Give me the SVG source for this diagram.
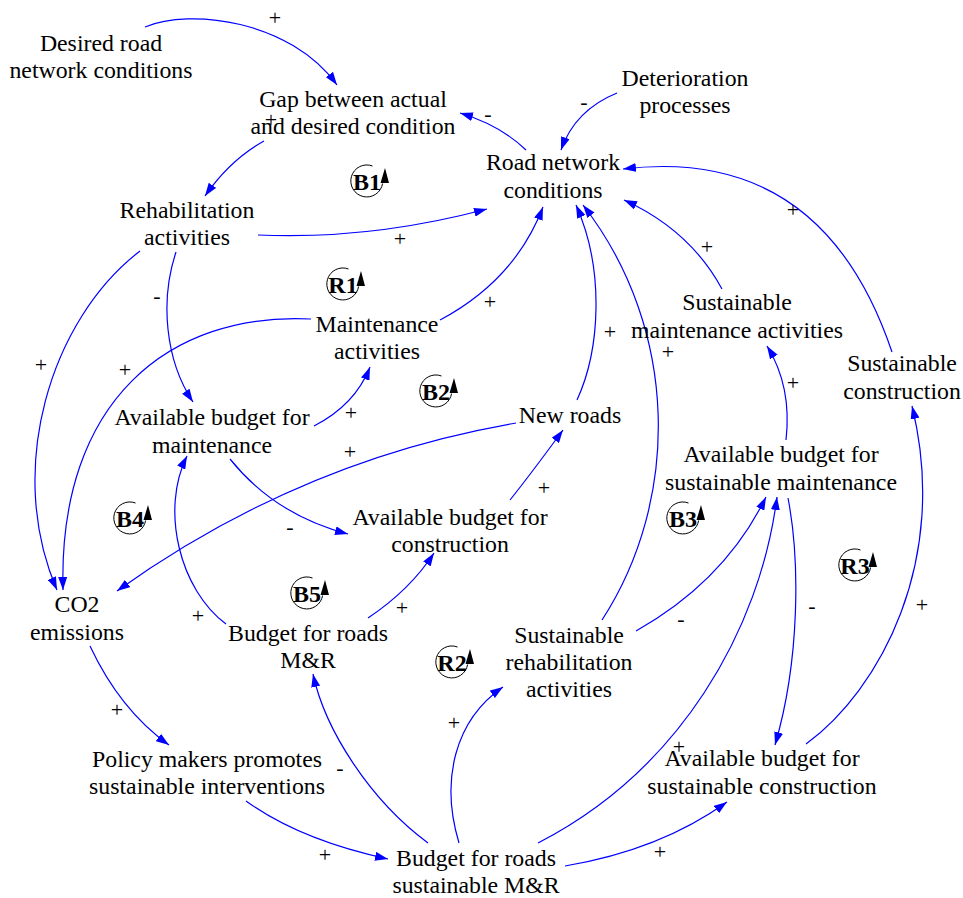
<svg xmlns="http://www.w3.org/2000/svg" width="963" height="898" viewBox="0 0 963 898" font-family="'Liberation Serif', 'DejaVu Serif', serif">
  <style>
    .node text { font-family: 'Liberation Serif', 'DejaVu Serif', serif; font-size: 23.8px; fill: #000; text-anchor: middle; }
    .link { fill: none; stroke: #0000ff; stroke-width: 1.2; marker-end: url(#arrow); }
    .pol { font-family: 'Liberation Serif', 'DejaVu Serif', serif; font-size: 22px; fill: #000; text-anchor: middle; }
    .loop text { font-family: 'Liberation Serif', 'DejaVu Serif', serif; font-size: 24px; font-weight: bold; fill: #000; text-anchor: middle; }
  </style>
  <defs>
    <marker id="arrow" markerUnits="userSpaceOnUse" markerWidth="13" markerHeight="9" refX="13" refY="4.5" orient="auto">
      <path d="M0,0 L13,4.5 L0,9 Z" fill="#0000ff"/>
    </marker>
    <!-- loop indicator: open circle with an upward arrow on its right side -->
    <g id="loopSymbol">
      <path d="M5.5,-15 A16,16 0 1 0 15.6,2.5" fill="none" stroke="#000" stroke-width="1"/>
      <path d="M13.5,2 L18,-13 L22,2 Z" fill="#000"/>
    </g>
  </defs>

  <!-- causal links -->
  <g id="connectors">
    <path class="link" d="M145,27 C190,8 290,20 337,85"/>
    <path class="link" d="M264,141 Q230,160 205,196"/>
    <path class="link" d="M526,150 Q500,125 460,113"/>
    <path class="link" d="M617,93 Q575,110 561,150"/>
    <path class="link" d="M258,235 Q370,240 487,209"/>
    <path class="link" d="M440,320 Q515,280 543,207"/>
    <path class="link" d="M577,400 C600,350 605,270 576,205"/>
    <path class="link" d="M602,620 C680,500 680,330 583,205"/>
    <path class="link" d="M722,289 Q690,230 624,200"/>
    <path class="link" d="M892,352 Q822,145 623,169"/>
    <path class="link" d="M140,251 C50,320 5,470 57,590"/>
    <path class="link" d="M176,252 C160,300 165,360 193,402"/>
    <path class="link" d="M311,319 C170,312 58,400 63,590"/>
    <path class="link" d="M314,426 Q355,405 370,367"/>
    <path class="link" d="M516,423 Q300,460 117,591"/>
    <path class="link" d="M230,459 Q275,515 348,534"/>
    <path class="link" d="M510,500 Q530,475 563,430"/>
    <path class="link" d="M226,624 C180,590 160,510 187,456"/>
    <path class="link" d="M368,618 Q410,590 434,553"/>
    <path class="link" d="M90,646 Q120,710 169,745"/>
    <path class="link" d="M246,801 Q300,840 388,859"/>
    <path class="link" d="M428,843 C370,800 325,730 313,674"/>
    <path class="link" d="M459,843 C440,780 455,720 503,687"/>
    <path class="link" d="M538,843 C680,770 760,630 777,497"/>
    <path class="link" d="M565,866 Q660,850 727,802"/>
    <path class="link" d="M636,631 C700,595 740,550 766,497"/>
    <path class="link" d="M786,440 C790,405 785,375 767,346"/>
    <path class="link" d="M788,498 C800,560 800,660 775,745"/>
    <path class="link" d="M806,744 C880,690 950,560 912,406"/>
  </g>

  <!-- link polarities -->
  <g id="polarities">
    <text class="pol" x="275" y="25">+</text>
    <text class="pol" x="271" y="127">+</text>
    <text class="pol" x="488" y="121">-</text>
    <text class="pol" x="584" y="109">-</text>
    <text class="pol" x="400" y="246">+</text>
    <text class="pol" x="490" y="309">+</text>
    <text class="pol" x="610" y="339">+</text>
    <text class="pol" x="668" y="359">+</text>
    <text class="pol" x="707" y="254">+</text>
    <text class="pol" x="793" y="217">+</text>
    <text class="pol" x="41" y="372">+</text>
    <text class="pol" x="157" y="303">-</text>
    <text class="pol" x="125" y="377">+</text>
    <text class="pol" x="351" y="420">+</text>
    <text class="pol" x="350" y="459">+</text>
    <text class="pol" x="290" y="534">-</text>
    <text class="pol" x="544" y="495">+</text>
    <text class="pol" x="198" y="623">+</text>
    <text class="pol" x="402" y="615">+</text>
    <text class="pol" x="117" y="717">+</text>
    <text class="pol" x="325" y="862">+</text>
    <text class="pol" x="340" y="775">-</text>
    <text class="pol" x="454" y="730">+</text>
    <text class="pol" x="679" y="754">+</text>
    <text class="pol" x="660" y="859">+</text>
    <text class="pol" x="681" y="626">-</text>
    <text class="pol" x="793" y="390">+</text>
    <text class="pol" x="812" y="613">-</text>
    <text class="pol" x="922" y="612">+</text>
  </g>

  <!-- variables -->
  <g id="n-desired" class="node"><text x="101" y="51">Desired road</text><text x="101" y="78">network conditions</text></g>
  <g id="n-gap" class="node"><text x="353" y="107">Gap between actual</text><text x="353" y="134">and desired condition</text></g>
  <g id="n-road" class="node"><text x="553" y="170">Road network</text><text x="553" y="198">conditions</text></g>
  <g id="n-deterioration" class="node"><text x="685" y="86">Deterioration</text><text x="685" y="113">processes</text></g>
  <g id="n-rehab" class="node"><text x="187" y="218">Rehabilitation</text><text x="187" y="245">activities</text></g>
  <g id="n-maint" class="node"><text x="377" y="332">Maintenance</text><text x="377" y="359">activities</text></g>
  <g id="n-sust-maint" class="node"><text x="737" y="310">Sustainable</text><text x="737" y="338">maintenance activities</text></g>
  <g id="n-sust-constr" class="node"><text x="902" y="371">Sustainable</text><text x="902" y="399">construction</text></g>
  <g id="n-budget-maint" class="node"><text x="212" y="425">Available budget for</text><text x="212" y="453">maintenance</text></g>
  <g id="n-new-roads" class="node"><text x="570" y="423">New roads</text></g>
  <g id="n-budget-sust-maint" class="node"><text x="781" y="462">Available budget for</text><text x="781" y="490">sustainable maintenance</text></g>
  <g id="n-budget-constr" class="node"><text x="450" y="525">Available budget for</text><text x="450" y="552">construction</text></g>
  <g id="n-co2" class="node"><text x="77" y="612">CO2</text><text x="77" y="640">emissions</text></g>
  <g id="n-budget-mr" class="node"><text x="308" y="641">Budget for roads</text><text x="308" y="668">M&amp;R</text></g>
  <g id="n-sust-rehab" class="node"><text x="569" y="643">Sustainable</text><text x="569" y="670">rehabilitation</text><text x="569" y="697">activities</text></g>
  <g id="n-policy" class="node"><text x="207" y="767">Policy makers promotes</text><text x="207" y="794">sustainable interventions</text></g>
  <g id="n-budget-sust-constr" class="node"><text x="762" y="766">Available budget for</text><text x="762" y="794">sustainable construction</text></g>
  <g id="n-budget-smr" class="node"><text x="476" y="866">Budget for roads</text><text x="476" y="893">sustainable M&amp;R</text></g>

  <!-- loop identifiers -->
  <g id="loop-B1" class="loop" transform="translate(367,181)"><use href="#loopSymbol"/><text x="0" y="8.5">B1</text></g>
  <g id="loop-R1" class="loop" transform="translate(343,284)"><use href="#loopSymbol"/><text x="0" y="8.5">R1</text></g>
  <g id="loop-B2" class="loop" transform="translate(436,391)"><use href="#loopSymbol"/><text x="0" y="8.5">B2</text></g>
  <g id="loop-B4" class="loop" transform="translate(130,518)"><use href="#loopSymbol"/><text x="0" y="8.5">B4</text></g>
  <g id="loop-B5" class="loop" transform="translate(307,593)"><use href="#loopSymbol"/><text x="0" y="8.5">B5</text></g>
  <g id="loop-R2" class="loop" transform="translate(452,662)"><use href="#loopSymbol"/><text x="0" y="8.5">R2</text></g>
  <g id="loop-B3" class="loop" transform="translate(683,518)"><use href="#loopSymbol"/><text x="0" y="8.5">B3</text></g>
  <g id="loop-R3" class="loop" transform="translate(855,565)"><use href="#loopSymbol"/><text x="0" y="8.5">R3</text></g>
</svg>
